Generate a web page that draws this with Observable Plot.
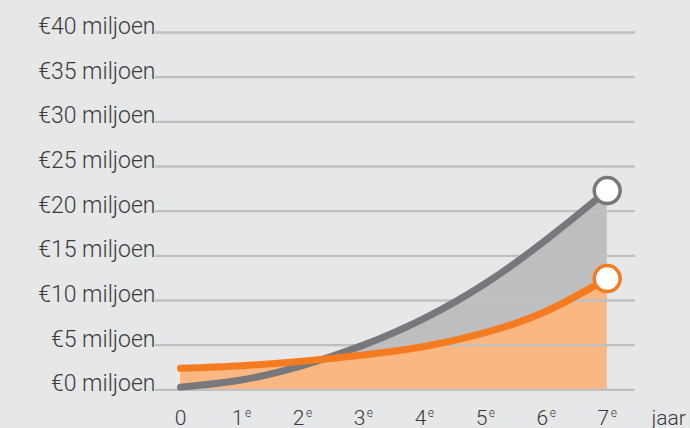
<!DOCTYPE html>
<html>
<head>
<meta charset="utf-8">
<script src="https://cdn.jsdelivr.net/npm/d3@7"></script>
<script src="https://cdn.jsdelivr.net/npm/@observablehq/plot@0.6"></script>
<style>
  html, body { margin: 0; padding: 0; background: #e6e7e8; }
  #chart svg { display: block; }
</style>
</head>
<body>
<div id="chart"></div>
<script>
const years = [0, 1, 2, 3, 4, 5, 6, 7];
const yearDigits = ["0", "1", "2", "3", "4", "5", "6", "7"];
const yearSuffix = ["", "e", "e", "e", "e", "e", "e", "e"];
const grayValues = [0.3, 1.1, 2.7, 5.0, 8.0, 11.9, 16.8, 22.3];
const orangeValues = [2.4, 2.7, 3.2, 3.9, 4.85, 6.4, 8.8, 12.45];
const yTicks = [0, 5, 10, 15, 20, 25, 30, 35, 40];
const yTickLabels = yTicks.map(v => `€${v} miljoen`);
const xAxisTitle = "jaar";

const gray = years.map((x, i) => ({x, y: grayValues[i]}));
const orange = years.map((x, i) => ({x, y: orangeValues[i]}));
const xLabels = years.map((x, i) => ({x, digit: yearDigits[i], suffix: yearSuffix[i]}));
const plainLabels = xLabels.filter(d => !d.suffix);
const ordinalLabels = xLabels.filter(d => d.suffix);

const font = "'Roboto Light', Roboto, 'Open Sans', sans-serif";
const textColor = "#3a3a3a";

const chart = Plot.plot({
  width: 690,
  height: 428,
  marginLeft: 155,
  marginRight: 55,
  marginTop: 32,
  marginBottom: 38.7,
  x: {domain: [-0.41, 7.464], axis: null},
  y: {domain: [0, 40], axis: null},
  style: {background: "#e6e7e8", fontFamily: font},
  marks: [
    Plot.areaY(gray, {x: "x", y: "y", fill: "#bcbec0", curve: "natural"}),
    Plot.areaY(orange, {x: "x", y: "y", fill: "#fbb782", curve: "natural"}),
    Plot.ruleY(yTicks, {stroke: "#bfc0c2", strokeWidth: 2.3}),
    Plot.text(yTicks, {
      y: d => d, text: (d, i) => yTickLabels[i], frameAnchor: "left",
      textAnchor: "end", lineAnchor: "bottom", dy: 1.5,
      fontSize: 23, fontWeight: 300, fill: textColor
    }),
    Plot.line(gray, {x: "x", y: "y", stroke: "#77787b", strokeWidth: 7, curve: "natural"}),
    Plot.line(orange, {x: "x", y: "y", stroke: "#f47b20", strokeWidth: 7, curve: "natural"}),
    Plot.dot([gray[gray.length - 1]], {x: "x", y: "y", r: 13, fill: "white", stroke: "#77787b", strokeWidth: 3.5}),
    Plot.dot([orange[orange.length - 1]], {x: "x", y: "y", r: 13, fill: "white", stroke: "#f47b20", strokeWidth: 3.5}),
    Plot.text(plainLabels, {
      x: "x", text: "digit", frameAnchor: "bottom",
      textAnchor: "middle", lineAnchor: "bottom", dy: 35.5,
      fontSize: 21, fontWeight: 300, fill: textColor
    }),
    Plot.text(ordinalLabels, {
      x: "x", text: "digit", frameAnchor: "bottom",
      textAnchor: "end", dx: 2, lineAnchor: "bottom", dy: 35.5,
      fontSize: 21, fontWeight: 300, fill: textColor
    }),
    Plot.text(ordinalLabels, {
      x: "x", text: "suffix", frameAnchor: "bottom",
      textAnchor: "start", dx: 3.5, lineAnchor: "bottom", dy: 27,
      fontSize: 12, fontWeight: 300, fill: textColor
    }),
    Plot.text([xAxisTitle], {
      frameAnchor: "bottom-right", textAnchor: "start", lineAnchor: "bottom",
      dx: 16, dy: 35.5, fontSize: 21, fontWeight: 300, fill: textColor
    })
  ]
});
document.getElementById("chart").appendChild(chart);
</script>
</body>
</html>
